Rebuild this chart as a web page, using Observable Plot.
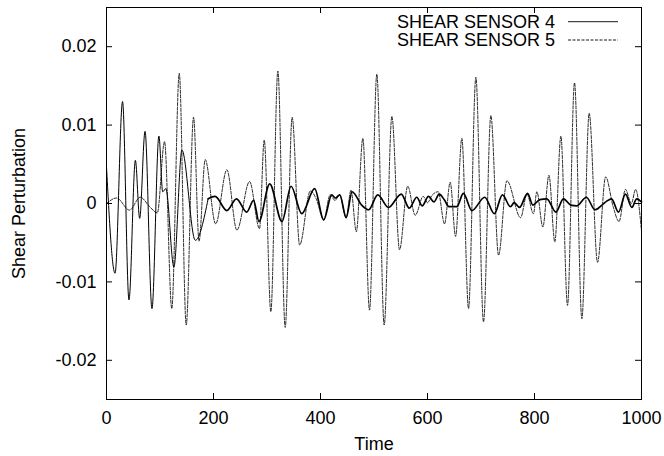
<!DOCTYPE html>
<html><head><meta charset="utf-8">
<script src="https://cdn.jsdelivr.net/npm/d3@7"></script>
<script src="https://cdn.jsdelivr.net/npm/@observablehq/plot@0.6"></script>
<style>body{margin:0;background:#fff} svg{display:block}</style>
</head><body><div id="chart"></div>
<script>
// Shear sensor 4 (solid) — extrema
const sensor4Time = [0,16,30,42,54,62,72,85,98,105,111,126,141,166,190,203,225,243,262,275,285,305,328,345,365,389,406,421,428,436,448,459,477,490,507,527,551,566,580,590,602,612,622,632,640,655,667,683,707,725,740,755,762,772,787,797,810,823,840,854,868,879,897,913,926,935,944,957,970,982,991,1000];
const sensor4Shear = [0.0047,-0.0089,0.0130,-0.0123,0.0055,-0.0019,0.0092,-0.0134,0.0086,0.0015,0.0019,-0.0081,0.0068,-0.0047,0.0006,0.0009,-0.0009,0.0006,-0.0011,0.0004,-0.0023,0.0025,-0.0023,0.0022,-0.0013,0.0019,-0.0021,0.0011,0.0007,0.0011,-0.0018,0.0015,-0.0002,-0.0008,0.0011,-0.0005,0.0012,-0.0006,0.0008,-0.0003,0.0009,0.0002,0.0012,0.0004,-0.0004,-0.0004,0.0013,-0.0009,0.0008,-0.0013,0.0011,-0.0004,0.0001,-0.0005,0.0013,-0.0002,0.0005,0.0006,-0.0011,0.0006,-0.0002,-0.0003,0.0008,-0.0008,-0.0002,0.0003,0.0006,-0.0011,0.0012,-0.0005,0.0006,0.0002];

// Shear sensor 5 (dashed)
const sensor5Time = [0,19,43,63,82,95,108.5,122,136,149,162.7,173,184.5,204,225,243.7,267.4,286,294.8,307.2,320.3,334,347,361,381,392,406,418,427,436,448,457,467,479.2,491.6,505.3,519,533.4,547.7,563,577,592,600,608,620,631.8,642.4,652.5,664.2,676.7,690.4,704.7,718.4,732.8,748.4,774,786,798,804.4,815.6,827,838,849.3,861.7,874.8,888.5,902.2,917.8,933,947,958,970,981,989,1000];
const sensor5Shear = [0.0000,0.0007,-0.00085,0.0008,-0.0005,-0.0012,0.0079,-0.0134,0.0166,-0.0155,0.0110,-0.0048,0.0056,-0.0026,0.0043,-0.0034,0.0028,-0.0032,0.0081,-0.0138,0.0169,-0.0158,0.0110,-0.0053,0.0016,0.0006,-0.0021,0.0011,0.0004,0.0011,-0.0018,0.0017,-0.0036,0.0083,-0.0136,0.0165,-0.0155,0.0111,-0.0059,0.0022,-0.0015,0.0009,0.0001,0.0010,0.0015,-0.0026,0.0027,-0.0042,0.0083,-0.0134,0.0161,-0.0151,0.0112,-0.0066,0.0029,-0.0018,0.0012,-0.0013,0.0015,-0.0030,0.0036,-0.0049,0.0086,-0.0130,0.0154,-0.0147,0.0115,-0.0075,0.0034,-0.0004,-0.0023,0.0018,0.0000,0.0018,-0.0035];

const xTicks = [0,200,400,600,800,1000];
const yTicks = [-0.02,-0.01,0,0.01,0.02];
const seriesNames = ["SHEAR SENSOR 4","SHEAR SENSOR 5"];
const xLabel = "Time";
const yLabel = "Shear Perturbation";

const s4 = sensor4Time.map((t,i)=>({t, v: sensor4Shear[i]}));
const s5 = sensor5Time.map((t,i)=>({t, v: sensor5Shear[i]}));

const W=664, H=456, mL=106, mR=23, mT=7, mB=57;
const fw = W-mL-mR, fh = H-mT-mB, tk = 6;

const plot = Plot.plot({
  width:W, height:H, marginLeft:mL, marginRight:mR, marginTop:mT, marginBottom:mB,
  style:{fontFamily:"'Liberation Sans', Arial, Helvetica, sans-serif", fontSize:"18px", color:"#000", background:"#fff"},
  x:{domain:[0,1000]},
  y:{domain:[-0.025,0.025]},
  marks:[
    Plot.axisX({ticks:xTicks, tickSize:0, tickPadding:12, tickFormat:d=>String(d), label:xLabel, labelAnchor:"center", labelArrow:"none", labelOffset:50}),
    Plot.axisY({ticks:yTicks, tickSize:0, tickPadding:10, tickFormat:d=>d===0?"0":String(d), label:yLabel, labelAnchor:"center", labelArrow:"none", labelOffset:94}),
    Plot.ruleX(xTicks, {x:d=>d, insetTop:fh-tk, stroke:"#000"}),
    Plot.ruleX(xTicks, {x:d=>d, insetBottom:fh-tk, stroke:"#000"}),
    Plot.ruleY(yTicks, {y:d=>d, insetRight:fw-tk, stroke:"#000"}),
    Plot.ruleY(yTicks, {y:d=>d, insetLeft:fw-tk, stroke:"#000"}),
    Plot.line(s5, {x:"t", y:"v", curve:"monotone-x", stroke:"#111", strokeWidth:0.9, strokeDasharray:"3,1.5"}),
    Plot.line(s4.filter(d=>d.t<=190), {x:"t", y:"v", curve:"monotone-x", stroke:"#000", strokeWidth:1}),
    Plot.line(s4.filter(d=>d.t>=190), {x:"t", y:"v", curve:"monotone-x", stroke:"#000", strokeWidth:1.7}),
    Plot.frame({stroke:"#000"})
  ]
});

// legend (top-right, inside frame)
const svg = d3.select(plot);
const right = W - mR;
const lg = svg.append("g").attr("font-size", 18).attr("font-family", "'Liberation Sans', Arial, Helvetica, sans-serif");
seriesNames.forEach((name, i) => {
  const cy = mT + 14.7 + i*18.3;
  lg.append("text").attr("x", right-86).attr("y", cy).attr("dy","0.35em").attr("text-anchor","end").attr("fill","#000").text(name);
  lg.append("line").attr("x1", right-73).attr("x2", right-23).attr("y1", cy).attr("y2", cy)
    .attr("stroke","#000").attr("stroke-width", 0.9).attr("stroke-dasharray", i===1 ? "3,1.5" : null);
});

document.getElementById("chart").appendChild(plot);
</script>
</body></html>
